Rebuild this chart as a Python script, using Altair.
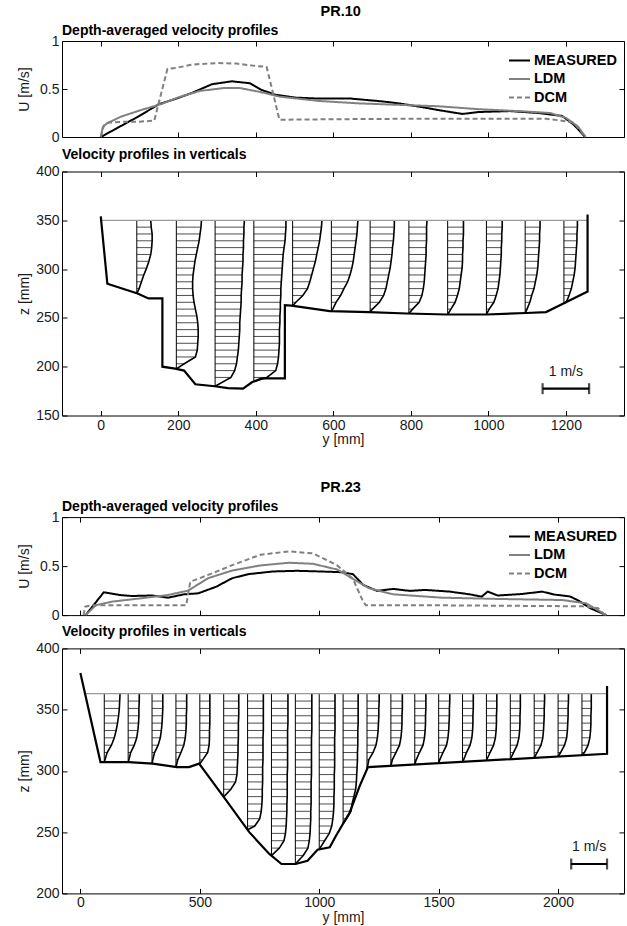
import altair as alt
import pandas as pd

FONT = "Liberation Sans"
W = 562

# ------------------------- PR.10 : depth-averaged -------------------------
meas10_y = [0, 50, 100, 149, 195, 236, 287, 338, 385, 415, 451, 503, 564, 646, 728, 769, 831, 872, 933, 974, 1056, 1128, 1190, 1220, 1250]
meas10_u = [0, 0.11, 0.22, 0.34, 0.40, 0.46, 0.55, 0.58, 0.56, 0.49, 0.44, 0.41, 0.40, 0.40, 0.37, 0.35, 0.31, 0.28, 0.24, 0.26, 0.27, 0.25, 0.22, 0.13, 0]
ldm10_y = [0, 5, 15, 51, 103, 154, 205, 256, 318, 359, 410, 462, 564, 667, 769, 872, 974, 1077, 1159, 1200, 1231, 1251]
ldm10_u = [0, 0.10, 0.14, 0.21, 0.28, 0.34, 0.42, 0.48, 0.51, 0.51, 0.47, 0.42, 0.375, 0.35, 0.335, 0.32, 0.29, 0.27, 0.25, 0.20, 0.11, 0]
dcm10_y = [0, 8, 20, 60, 100, 138, 172, 195, 230, 256, 300, 350, 380, 400, 428, 461, 600, 800, 1000, 1150, 1190, 1220, 1251]
dcm10_u = [0, 0.12, 0.15, 0.16, 0.16, 0.17, 0.71, 0.72, 0.75, 0.76, 0.77, 0.765, 0.75, 0.74, 0.73, 0.18, 0.185, 0.19, 0.19, 0.19, 0.17, 0.15, 0]

# ------------------------- PR.10 : verticals -------------------------
bed10_y = [0, 17, 95, 123, 159, 159, 192, 215, 244, 294, 328, 367, 390, 415, 475, 475, 492, 591, 692, 790, 892, 995, 1097, 1149, 1195, 1256, 1256]
bed10_z = [354, 285, 275, 270, 270, 200, 198, 196, 182, 180, 178, 177.5, 184, 188, 188, 263, 262.5, 257, 256, 254.5, 253.5, 253.5, 255, 256, 265, 277, 356]
surf10_y = [0, 1256]
surf10_z = [350, 350]
vert10_y = [93, 195, 295, 395, 495, 595, 695, 795, 895, 995, 1095, 1195]
vert10_zb = [275, 197.7, 180, 184.8, 262.3, 257, 256, 254.5, 253.5, 253.5, 255, 265]
zlev10 = [350, 343, 336, 329, 322, 315, 308, 301, 294, 287, 280, 273, 266, 259, 252, 245, 238, 231, 224, 217, 210, 203, 196, 189]
prof10 = [
    [0.30, 0.31, 0.33, 0.33, 0.32, 0.30, 0.26, 0.21, 0.15, 0.10, 0.05],
    [0.54, 0.53, 0.51, 0.49, 0.46, 0.43, 0.40, 0.38, 0.36, 0.35, 0.35, 0.36, 0.38, 0.41, 0.44, 0.46, 0.47, 0.47, 0.46, 0.45, 0.41, 0.17],
    [0.63, 0.62, 0.62, 0.61, 0.61, 0.60, 0.60, 0.59, 0.58, 0.58, 0.57, 0.56, 0.56, 0.55, 0.54, 0.53, 0.53, 0.52, 0.51, 0.50, 0.48, 0.46, 0.42, 0.34],
    [0.69, 0.69, 0.68, 0.67, 0.65, 0.63, 0.62, 0.61, 0.60, 0.59, 0.58, 0.58, 0.57, 0.57, 0.56, 0.56, 0.55, 0.55, 0.55, 0.54, 0.53, 0.51, 0.47, 0.28],
    [0.63, 0.62, 0.60, 0.58, 0.55, 0.52, 0.49, 0.45, 0.41, 0.37, 0.32, 0.22, 0.07],
    [0.57, 0.56, 0.55, 0.53, 0.51, 0.49, 0.47, 0.44, 0.40, 0.35, 0.27, 0.20, 0.10, 0.03],
    [0.52, 0.52, 0.51, 0.50, 0.48, 0.47, 0.45, 0.43, 0.40, 0.37, 0.34, 0.29, 0.20, 0.05],
    [0.39, 0.38, 0.38, 0.38, 0.37, 0.37, 0.36, 0.35, 0.34, 0.33, 0.31, 0.28, 0.22, 0.08],
    [0.34, 0.34, 0.34, 0.33, 0.33, 0.32, 0.32, 0.31, 0.29, 0.27, 0.25, 0.21, 0.16, 0.07],
    [0.34, 0.34, 0.33, 0.33, 0.32, 0.32, 0.31, 0.30, 0.29, 0.27, 0.25, 0.21, 0.16, 0.06],
    [0.32, 0.32, 0.31, 0.31, 0.30, 0.29, 0.28, 0.27, 0.25, 0.22, 0.19, 0.14, 0.10, 0.04],
    [0.29, 0.29, 0.28, 0.28, 0.27, 0.26, 0.25, 0.24, 0.22, 0.19, 0.16, 0.11, 0.05],
]
scale10 = 120          # mm of y per 1 m/s
bar10_y = [1140, 1260]
bar10_z = 177.5

# ------------------------- PR.23 : depth-averaged -------------------------
meas23_y = [22, 98, 165, 215, 300, 367, 434, 493, 569, 636, 704, 805, 906, 1007, 1091, 1141, 1184, 1242, 1310, 1380, 1444, 1545, 1630, 1680, 1705, 1747, 1848, 1933, 1983, 2050, 2084, 2135, 2202]
meas23_u = [0, 0.233, 0.205, 0.195, 0.2, 0.178, 0.212, 0.222, 0.29, 0.377, 0.418, 0.445, 0.452, 0.445, 0.438, 0.418, 0.308, 0.247, 0.267, 0.247, 0.257, 0.24, 0.212, 0.188, 0.24, 0.2, 0.215, 0.24, 0.21, 0.19, 0.15, 0.07, 0]
ldm23_y = [22, 64, 131, 249, 367, 451, 535, 636, 754, 872, 973, 1074, 1141, 1209, 1310, 1512, 1764, 2017, 2118, 2202]
ldm23_u = [0, 0.10, 0.137, 0.17, 0.205, 0.25, 0.377, 0.455, 0.507, 0.534, 0.524, 0.466, 0.37, 0.274, 0.212, 0.178, 0.164, 0.154, 0.12, 0]
dcm23_y = [13, 20, 47, 200, 443, 460, 535, 636, 754, 872, 973, 1074, 1141, 1184, 1195, 1500, 2101, 2168, 2195]
dcm23_u = [0, 0.086, 0.10, 0.10, 0.10, 0.34, 0.41, 0.51, 0.616, 0.65, 0.63, 0.51, 0.37, 0.137, 0.10, 0.10, 0.09, 0.07, 0]

# ------------------------- PR.23 : verticals -------------------------
bed23_y = [0, 84, 202, 303, 404, 455, 497, 606, 707, 791, 842, 901, 951, 993, 1044, 1069, 1128, 1170, 1204, 2205, 2205]
bed23_z = [380, 307.2, 307.2, 305.9, 303.1, 303.1, 305.9, 277.2, 250, 232.2, 224, 224, 226.7, 235.7, 237.7, 246.7, 266.3, 288, 303.1, 314, 369.4]
surf23_y = [20, 2205]
surf23_z = [363, 363]
vert23_y = [100, 200, 300, 400, 500, 600, 700, 800, 900, 1000, 1100, 1200, 1300, 1400, 1500, 1600, 1700, 1800, 1900, 2000, 2100]
vert23_zb = [307.2, 307.2, 306, 303.1, 305.9, 278.8, 251.9, 230.8, 224, 235.9, 257, 301.3, 304.1, 305.2, 306.3, 307.4, 308.5, 309.6, 310.7, 311.8, 312.9]
zlev23 = [363, 357, 351, 345, 339, 333, 327, 321, 315, 309, 303, 297, 291, 285, 279, 273, 267, 261, 255, 249, 243, 237, 231, 225]
prof23 = [
    [0.44, 0.43, 0.42, 0.40, 0.37, 0.33, 0.28, 0.20, 0.08, 0.02],
    [0.31, 0.31, 0.30, 0.30, 0.29, 0.27, 0.24, 0.17, 0.07, 0.02],
    [0.30, 0.30, 0.30, 0.29, 0.28, 0.26, 0.23, 0.17, 0.07, 0.02],
    [0.30, 0.30, 0.30, 0.29, 0.29, 0.28, 0.26, 0.22, 0.14, 0.05],
    [0.28, 0.28, 0.28, 0.28, 0.28, 0.27, 0.27, 0.26, 0.22, 0.08],
    [0.42, 0.42, 0.42, 0.42, 0.41, 0.41, 0.41, 0.40, 0.40, 0.39, 0.38, 0.37, 0.33, 0.20],
    [0.44, 0.44, 0.44, 0.44, 0.44, 0.44, 0.43, 0.43, 0.43, 0.43, 0.42, 0.42, 0.42, 0.41, 0.41, 0.40, 0.38, 0.34, 0.20],
    [0.46, 0.46, 0.46, 0.46, 0.46, 0.45, 0.45, 0.45, 0.45, 0.45, 0.45, 0.44, 0.44, 0.44, 0.44, 0.43, 0.43, 0.42, 0.41, 0.39, 0.35, 0.22],
    [0.46, 0.46, 0.46, 0.46, 0.46, 0.46, 0.45, 0.45, 0.45, 0.45, 0.45, 0.45, 0.44, 0.44, 0.44, 0.44, 0.43, 0.43, 0.42, 0.41, 0.39, 0.35, 0.22],
    [0.44, 0.44, 0.44, 0.44, 0.44, 0.44, 0.43, 0.43, 0.43, 0.43, 0.43, 0.42, 0.42, 0.42, 0.41, 0.41, 0.40, 0.38, 0.35, 0.28, 0.15],
    [0.42, 0.42, 0.42, 0.42, 0.42, 0.41, 0.41, 0.41, 0.40, 0.40, 0.39, 0.38, 0.37, 0.35, 0.30, 0.25, 0.22, 0.10],
    [0.34, 0.34, 0.33, 0.33, 0.32, 0.31, 0.29, 0.25, 0.17, 0.05],
    [0.32, 0.32, 0.32, 0.31, 0.31, 0.30, 0.28, 0.24, 0.14, 0.04],
    [0.31, 0.31, 0.31, 0.30, 0.30, 0.29, 0.27, 0.23, 0.13, 0.04],
    [0.31, 0.31, 0.30, 0.30, 0.29, 0.28, 0.26, 0.22, 0.12, 0.03],
    [0.30, 0.30, 0.30, 0.29, 0.29, 0.28, 0.26, 0.21, 0.11, 0.03],
    [0.29, 0.29, 0.29, 0.28, 0.28, 0.27, 0.25, 0.20, 0.10],
    [0.28, 0.28, 0.28, 0.27, 0.27, 0.26, 0.24, 0.19, 0.09],
    [0.29, 0.29, 0.28, 0.28, 0.27, 0.26, 0.24, 0.19, 0.08],
    [0.29, 0.29, 0.28, 0.28, 0.27, 0.26, 0.24, 0.18, 0.07],
    [0.26, 0.26, 0.26, 0.25, 0.25, 0.24, 0.22, 0.17, 0.07],
]
scale23 = 150
bar23_y = [2055, 2205]
bar23_z = 224

MODELS = ["MEASURED", "LDM", "DCM"]


def axis(orient, values, labels=True, title=None, fmt="d", **kw):
    a = dict(orient=orient, values=values, offset=-5, tickSize=5, domain=False,
             grid=False, labels=labels, ticks=True, tickColor="black", tickWidth=1,
             title=title)
    if labels:
        a.update(format=fmt, labelFont=FONT, labelFontSize=14, labelColor="#1a1a1a",
                 labelPadding=(2.5 if orient in ("bottom", "top") else 3))
    if title is not None:
        a.update(titleFont=FONT, titleFontSize=14, titleFontWeight="normal",
                 titleColor="#1a1a1a", titleBaseline="middle")
    a.update(kw)
    return alt.Axis(**a)


def u_panel(my, mu, ly, lu, dy, du, xdom, xticks, height):
    rows = []
    for name, ys, us in [("MEASURED", my, mu), ("LDM", ly, lu), ("DCM", dy, du)]:
        for i, (a, b) in enumerate(zip(ys, us)):
            rows.append({"y": a, "u": b, "model": name, "i": i})
    df = pd.DataFrame(rows)
    xs = alt.Scale(domain=xdom, nice=False, zero=False)
    us_ = alt.Scale(domain=[0, 1], nice=False)
    leg = alt.Legend(orient="none", legendX=446, legendY=8, title=None,
                     labelFont=FONT, labelFontSize=14.5, labelFontWeight="bold",
                     labelColor="black", symbolType="stroke", symbolSize=441,
                     symbolStrokeWidth=2, rowPadding=0.5, labelOffset=3, padding=0)
    lines = alt.Chart(df).mark_line(strokeWidth=2).encode(
        x=alt.X("y:Q", scale=xs, axis=axis("bottom", xticks, labels=False)),
        y=alt.Y("u:Q", scale=us_, axis=axis("left", [0, 0.5, 1], title="U [m/s]", fmt="~g", titleX=-43)),
        color=alt.Color("model:N", scale=alt.Scale(domain=MODELS, range=["#000000", "#808080", "#808080"]), legend=leg),
        strokeDash=alt.StrokeDash("model:N", scale=alt.Scale(domain=MODELS, range=[[1, 0], [1, 0], [5, 3]]), legend=leg),
        detail="model:N",
        order="i:Q",
    )
    ghost = alt.Chart(df).mark_point(opacity=0).encode(
        x=alt.X("y:Q", scale=xs, axis=axis("top", xticks, labels=False)),
        y=alt.Y("u:Q", scale=us_, axis=axis("right", [0, 0.5, 1], labels=False)),
    )
    return alt.layer(lines, ghost).resolve_axis(x="independent", y="independent").properties(
        width=W, height=height,
        title=alt.TitleParams("Depth-averaged velocity profiles", anchor="start", frame="group",
                              font=FONT, fontSize=14, fontWeight="bold", color="black", offset=-4))


def z_panel(bed_y, bed_z, sy, sz, vy, vzb, zlev, profs, S, bar_y, bar_z, xdom, zdom, xticks, zticks, height):
    xs = alt.Scale(domain=xdom, nice=False, zero=False)
    zs = alt.Scale(domain=zdom, nice=False, zero=False)
    bed = pd.DataFrame({"y": bed_y, "z": bed_z, "i": list(range(len(bed_y)))})
    surf = pd.DataFrame({"y": sy, "z": sz})
    prow, hrow, vrow = [], [], []
    for v, (y0, zb, pr) in enumerate(zip(vy, vzb, profs)):
        for k, u in enumerate(pr):
            prow.append({"v": v, "i": k, "x": y0 + u * S, "z": zlev[k]})
            if k > 0:
                hrow.append({"y0": y0, "x2": y0 + u * S, "z": zlev[k]})
        prow.append({"v": v, "i": len(pr), "x": y0, "z": zb})
        vrow.append({"y0": y0, "zb": zb, "zs": sz[0]})
    pdf, hdf, vdf = pd.DataFrame(prow), pd.DataFrame(hrow), pd.DataFrame(vrow)
    bar = pd.DataFrame({"a": [bar_y[0]], "b": [bar_y[1]], "z": [bar_z], "m": [(bar_y[0] + bar_y[1]) / 2], "t": ["1 m/s"]})
    caps = pd.DataFrame({"y": bar_y, "z": [bar_z, bar_z]})

    hatch = alt.Chart(hdf).mark_rule(strokeWidth=0.7, color="black").encode(
        x=alt.X("y0:Q", scale=xs, axis=None), x2="x2:Q", y=alt.Y("z:Q", scale=zs, axis=None))
    verts = alt.Chart(vdf).mark_rule(strokeWidth=1, color="black").encode(
        x=alt.X("y0:Q", scale=xs, axis=None), y=alt.Y("zb:Q", scale=zs, axis=None), y2="zs:Q")
    curves = alt.Chart(pdf).mark_line(strokeWidth=1.6, color="black").encode(
        x=alt.X("x:Q", scale=xs, axis=None), y=alt.Y("z:Q", scale=zs, axis=None), detail="v:N", order="i:Q")
    surfl = alt.Chart(surf).mark_line(strokeWidth=1.2, color="#9a9a9a").encode(
        x=alt.X("y:Q", scale=xs, axis=axis("top", xticks, labels=False)),
        y=alt.Y("z:Q", scale=zs, axis=axis("right", zticks, labels=False)))
    bedl = alt.Chart(bed).mark_line(strokeWidth=2.2, color="black").encode(
        x=alt.X("y:Q", scale=xs, axis=axis("bottom", xticks, title="y [mm]", titleY=29)),
        y=alt.Y("z:Q", scale=zs, axis=axis("left", zticks, title="z [mm]", titleX=-43)),
        order="i:Q")
    barl = alt.Chart(bar).mark_rule(strokeWidth=2.2, color="black").encode(
        x=alt.X("a:Q", scale=xs, axis=None), x2="b:Q", y=alt.Y("z:Q", scale=zs, axis=None))
    capl = alt.Chart(caps).mark_tick(thickness=2.2, size=11, color="black", orient="vertical").encode(
        x=alt.X("y:Q", scale=xs, axis=None), y=alt.Y("z:Q", scale=zs, axis=None))
    txt = alt.Chart(bar).mark_text(font=FONT, fontSize=14, color="#1a1a1a", baseline="bottom", dy=-10).encode(
        x=alt.X("m:Q", scale=xs, axis=None), y=alt.Y("z:Q", scale=zs, axis=None), text="t:N")
    return alt.layer(hatch, verts, curves, surfl, bedl, barl, capl, txt).resolve_axis(
        x="independent", y="independent").properties(
        width=W, height=height,
        title=alt.TitleParams("Velocity profiles in verticals", anchor="start", frame="group",
                              font=FONT, fontSize=14, fontWeight="bold", color="black", offset=2.7))


xt10 = [0, 200, 400, 600, 800, 1000, 1200]
xt23 = [0, 500, 1000, 1500, 2000]

top10 = u_panel(meas10_y, meas10_u, ldm10_y, ldm10_u, dcm10_y, dcm10_u, [-100, 1350], xt10, 96)
bot10 = z_panel(bed10_y, bed10_z, surf10_y, surf10_z, vert10_y, vert10_zb, zlev10, prof10, scale10,
                bar10_y, bar10_z, [-100, 1350], [150, 400], xt10, [150, 200, 250, 300, 350, 400], 244)
top23 = u_panel(meas23_y, meas23_u, ldm23_y, ldm23_u, dcm23_y, dcm23_u, [-77, 2276], xt23, 98)
bot23 = z_panel(bed23_y, bed23_z, surf23_y, surf23_z, vert23_y, vert23_zb, zlev23, prof23, scale23,
                bar23_y, bar23_z, [-77, 2276], [200, 400], xt23, [200, 250, 300, 350, 400], 245)

ttl = dict(anchor="middle", font=FONT, fontSize=14.5, fontWeight="bold", color="black", offset=4, dx=20)
g10 = alt.vconcat(top10, bot10, spacing=1.5, title=alt.TitleParams("PR.10", **ttl))
g23 = alt.vconcat(top23, bot23, spacing=0.3, title=alt.TitleParams("PR.23", **ttl))

chart = alt.vconcat(g10, g23, spacing=33.1).properties(
    padding={"left": 16, "top": 4, "right": 0, "bottom": 0},
    background="white",
).resolve_scale(color="independent", strokeDash="independent").configure_view(stroke="black", strokeWidth=1)

chart.save("out.html", embed_options={"renderer": "svg", "actions": False})
